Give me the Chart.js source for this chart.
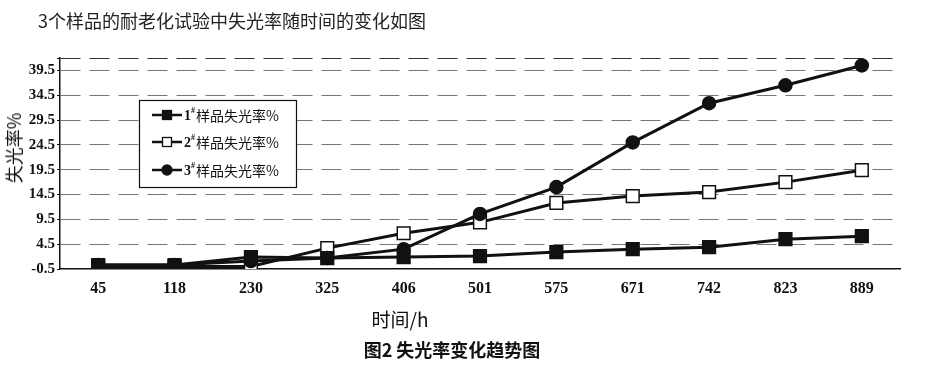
<!DOCTYPE html>
<html>
<head>
<meta charset="utf-8">
<script src="https://cdn.jsdelivr.net/npm/chart.js@4.4.1/dist/chart.umd.min.js"></script>
<style>
  html, body { margin: 0; padding: 0; background: #fff; }
  #wrap { position: relative; width: 941px; height: 368px; overflow: hidden; }
  #c { position: absolute; left: 0; top: 0; }
  .txt { position: absolute; white-space: nowrap; color: #111; font-family: "Noto Sans CJK SC", "Noto Sans", sans-serif; line-height: 1; }
  #title { left: 38px; top: 11px; font-size: 18px; color: #222; }
  #ytitle { left: 13px; top: 148px; font-size: 18px; transform: translate(-50%, -50%) rotate(-90deg); }
  #xtitle { left: 400px; top: 318px; font-size: 19px; transform: translate(-50%, -50%); }
  #caption { left: 452px; top: 349px; font-size: 18px; font-weight: bold; transform: translate(-50%, -50%); }
</style>
</head>
<body>
<div id="wrap">
  <canvas id="c" width="941" height="368"></canvas>
  <div class="txt" id="title">3个样品的耐老化试验中失光率随时间的变化如图</div>
  <div class="txt" id="ytitle">失光率%</div>
  <div class="txt" id="xtitle">时间/h</div>
  <div class="txt" id="caption">图2 失光率变化趋势图</div>
</div>
<script>
// ---- data ----
const categories = ['45', '118', '230', '325', '406', '501', '575', '671', '742', '823', '889'];
const sample1 = [0.3, 0.3, 1.9, 1.7, 1.9, 2.1, 2.9, 3.5, 3.9, 5.5, 6.1];
const sample2 = [0.0, 0.0, 0.0, 3.7, 6.7, 8.9, 12.8, 14.2, 15.0, 17.0, 19.4];
const sample3 = [0.3, 0.3, 1.1, 1.7, 3.5, 10.6, 16.0, 25.0, 32.9, 36.5, 40.5];
const seriesLabels = ['1#样品失光率%', '2#样品失光率%', '3#样品失光率%'];
const yTickValues = [-0.5, 4.5, 9.5, 14.5, 19.5, 24.5, 29.5, 34.5, 39.5];
const yMin = -0.5;
const yMax = 42;

// ---- legend drawn inside plot ----
const boxLegend = {
  id: 'boxLegend',
  afterDatasetsDraw(chart) {
    const ctx = chart.ctx;
    const x0 = 139, y0 = 100, w = 157, h = 87;
    ctx.save();
    ctx.fillStyle = '#fff';
    ctx.fillRect(x0, y0, w, h);
    ctx.strokeStyle = '#111';
    ctx.lineWidth = 1.2;
    ctx.strokeRect(x0 + 0.5, y0 + 0.5, w, h);
    const rows = [115, 142, 170];
    chart.data.datasets.forEach((ds, i) => {
      const y = rows[i];
      ctx.strokeStyle = '#111';
      ctx.lineWidth = 2.5;
      ctx.beginPath();
      ctx.moveTo(152, y); ctx.lineTo(182, y); ctx.stroke();
      const mx = 167;
      ctx.lineWidth = 1.3;
      ctx.fillStyle = ds.pointBackgroundColor;
      ctx.strokeStyle = '#111';
      if (ds.pointStyle === 'rect') {
        ctx.fillRect(mx - 4.5, y - 4.5, 9, 9);
        ctx.strokeRect(mx - 4.5, y - 4.5, 9, 9);
      } else {
        ctx.beginPath(); ctx.arc(mx, y, 5, 0, Math.PI * 2); ctx.fill(); ctx.stroke();
      }
      const parts = ds.label.split('#');
      ctx.fillStyle = '#111';
      ctx.textBaseline = 'middle';
      ctx.textAlign = 'left';
      let tx = 184;
      ctx.font = 'bold 14px "Liberation Serif", serif';
      ctx.fillText(parts[0], tx, y + 1);
      tx += ctx.measureText(parts[0]).width;
      ctx.font = 'bold 8px "Liberation Serif", serif';
      ctx.fillText('#', tx, y - 4);
      tx += ctx.measureText('#').width + 1;
      ctx.font = '14px "Noto Sans CJK SC", sans-serif';
      ctx.fillText(parts[1], tx, y + 1);
    });
    ctx.restore();
  }
};

const common = { borderColor: '#111', borderWidth: 3, tension: 0, pointBorderColor: '#111', pointBorderWidth: 1.5 };

new Chart(document.getElementById('c'), {
  type: 'line',
  data: {
    labels: categories,
    datasets: [
      Object.assign({}, common, { label: seriesLabels[0], data: sample1, pointStyle: 'rect', pointRadius: 9, pointBackgroundColor: '#111', order: 1 }),
      Object.assign({}, common, { label: seriesLabels[1], data: sample2, pointStyle: 'rect', pointRadius: 9, pointBackgroundColor: '#fff', order: 2 }),
      Object.assign({}, common, { label: seriesLabels[2], data: sample3, pointStyle: 'circle', pointRadius: 6.5, pointBackgroundColor: '#111', order: 0 })
    ]
  },
  options: {
    responsive: false,
    animation: false,
    layout: { padding: { left: 0, right: 41, top: 58, bottom: 0 } },
    plugins: { legend: { display: false }, tooltip: { enabled: false }, title: { display: false } },
    scales: {
      x: {
        type: 'category',
        offset: true,
        grid: { display: false, drawTicks: false },
        border: { display: true, color: '#111', width: 1.5 },
        ticks: { color: '#111', padding: 10, font: { family: '"Liberation Serif", serif', size: 16, weight: 'bold' }, maxRotation: 0 },
        afterFit(scale) { scale.height = 99; }
      },
      y: {
        type: 'linear',
        min: yMin,
        max: yMax,
        afterBuildTicks(scale) {
          scale.ticks = yTickValues.map(v => ({ value: v })).concat([{ value: yMax }]);
        },
        grid: {
          color: (c) => (c.tick && c.tick.value === yMin) ? 'rgba(0,0,0,0)' : (c.tick && c.tick.value === yMax ? '#333' : '#777'),
          lineWidth: 1,
          drawTicks: true,
          tickLength: 3,
          tickColor: '#111',
          tickBorderDash: []
        },
        border: { display: true, color: '#111', width: 1.5, dash: [20, 9] },
        ticks: {
          color: '#111',
          padding: 2,
          font: { family: '"Liberation Serif", serif', size: 15, weight: 'bold' },
          callback: (v) => (v === yMax ? '' : Number(v).toFixed(1))
        },
        afterFit(scale) { scale.width = 60; }
      }
    }
  },
  plugins: [boxLegend]
});
</script>
</body>
</html>
